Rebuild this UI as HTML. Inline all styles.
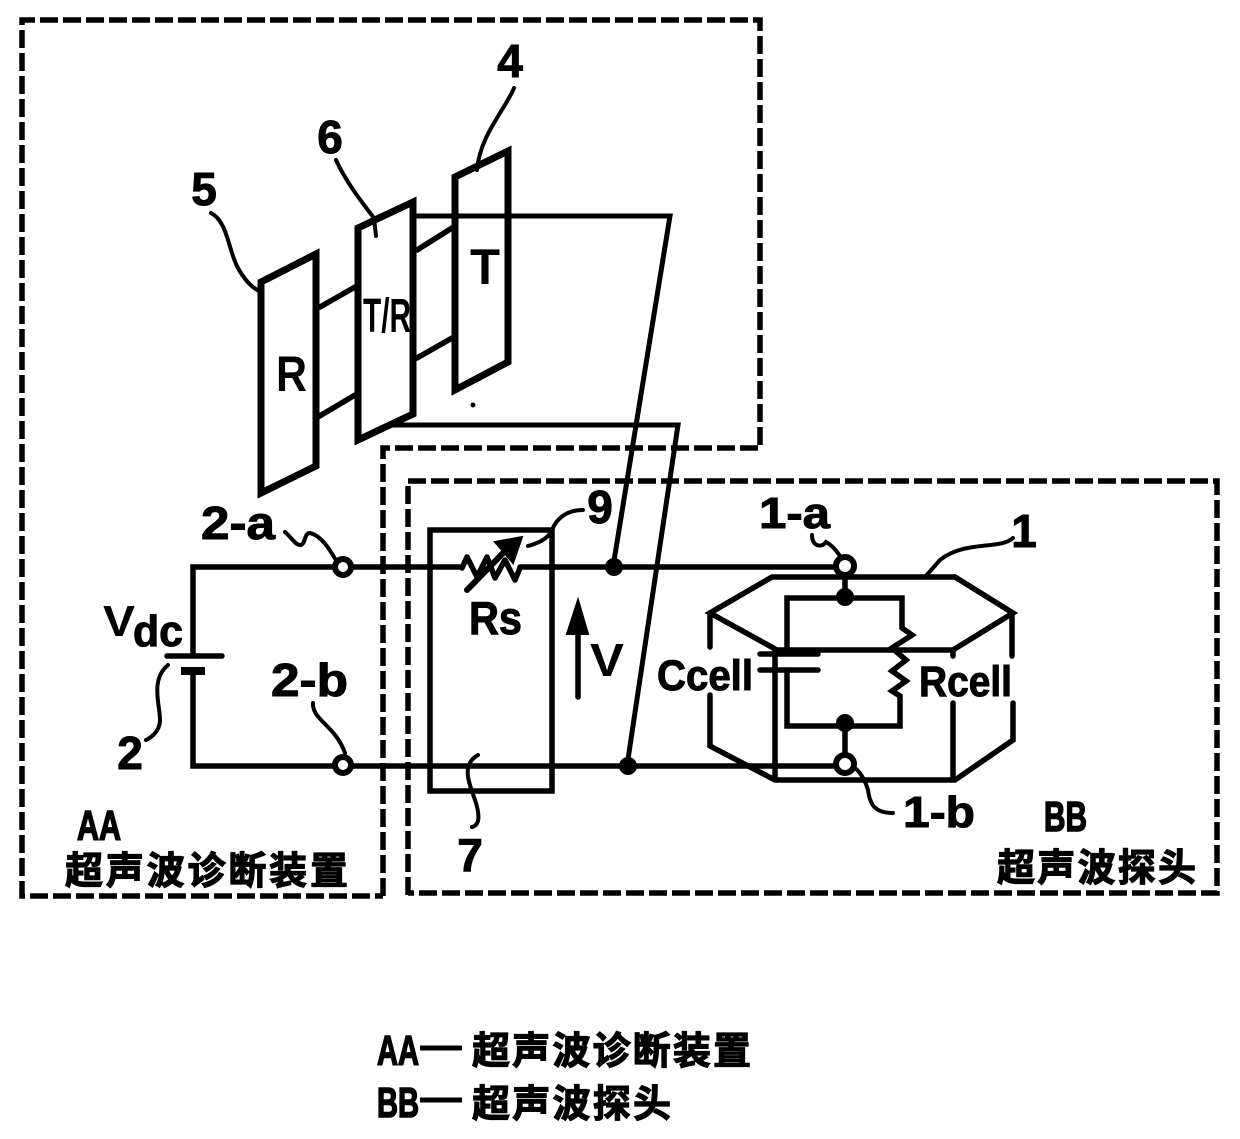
<!DOCTYPE html>
<html><head><meta charset="utf-8"><style>
html,body{margin:0;padding:0;background:#fff}
svg{display:block}
text{font-family:"Liberation Sans","Noto Sans CJK SC",sans-serif;font-weight:700;fill:#000}
.cjk{stroke:#000;stroke-width:1.2}
.l{stroke-width:1;stroke:#000}
.h{stroke-width:1.6;stroke:#000}
</style></head><body>
<svg width="1240" height="1139" viewBox="0 0 1240 1139" xmlns="http://www.w3.org/2000/svg">
<g fill="none" stroke="#000" stroke-linejoin="miter" stroke-linecap="round">
<!-- dashed frames -->
<g stroke-width="5.5" stroke-dasharray="18 5" stroke-linecap="butt">
<path d="M383 896V448H760V20H22V896H383"/>
<path d="M408 895V481H1217V893H408"/>
</g>
<!-- panels -->
<g stroke-width="7">
<path d="M261 282L316 254V466L261 493Z"/>
<path d="M358 228L413 202V414L358 440Z"/>
<path d="M455 177L508 151V362L455 390Z"/>
</g>
<g stroke-width="5.5">
<path d="M320 307L355 287M318 417L355 395M417 250L452 228M417 358L452 338"/>
</g>
<!-- feed lines -->
<g stroke-width="5">
<path d="M413 216H670L613 567"/>
<path d="M393 425H678L627 766"/>
</g>
<!-- main wires -->
<g stroke-width="5.5">
<path d="M334 567H193V654M193 674V766H334"/>
<path d="M353 567H462M520 567H834M353 766H834"/>
<rect x="430" y="530" width="122" height="261"/>
</g>
<path d="M167 656H222" stroke-width="5.5"/>
<path d="M181 671H205" stroke-width="8" stroke-linecap="butt"/>
<!-- terminals -->
<g stroke-width="6" fill="#fff">
<circle cx="343" cy="567" r="8"/><circle cx="343" cy="765" r="8"/>
</g>
<!-- resistor Rs -->
<path d="M462 568L467 557L477 577L487 557L495 578L505 560L515 580L520 568" stroke-width="5.5" stroke-linejoin="round"/>
<path d="M467 590L510 546" stroke-width="6"/>
<path d="M495 542L522 537L513 563Z" fill="#000" stroke-width="2"/>
<!-- V arrow -->
<path d="M578 697V610" stroke-width="5.5"/>
<path d="M578 600L567 634H588Z" fill="#000" stroke-width="2"/>
<!-- dots -->
<g fill="#000" stroke="none">
<circle cx="614" cy="567" r="9"/><circle cx="628" cy="766" r="9"/>
<circle cx="845" cy="597" r="9"/><circle cx="845" cy="723" r="9"/>
<circle cx="473" cy="405" r="2.5"/>
</g>
<!-- hexagon -->
<g stroke-width="5.5">
<path d="M772 577H955L1013 613L953 650H777L710 613L772 577"/>
<path d="M710 613V647M710 695V746L775 780H955L1013 740V703M1012 613V656M953 703V778M953 650V656M775 650V780"/>
</g>
<!-- cell circuit -->
<g stroke-width="5.5">
<path d="M845 575V597M845 723V757"/>
<path d="M787 650V598H902V628L912 635L892 648L906 660L892 671L906 681L892 691L900 696V726H787V670"/>
<path d="M760 654H818M760 670H818"/>
</g>
<g stroke-width="6" fill="#fff">
<circle cx="845" cy="566" r="9"/><circle cx="845" cy="764" r="9"/>
</g>
<!-- leaders -->
<g stroke-width="4">
<path d="M211 213C228 222 228 250 238 268C244 279 252 288 261 292"/>
<path d="M336 160C345 180 360 200 374 218L376 236"/>
<path d="M514 88C505 110 480 135 477 170"/>
<path d="M583 510C565 510 556 520 552 530C548 540 535 544 528 546"/>
<path d="M1013 538C1000 550 965 540 940 560L925 577"/>
<path d="M812 535C812 547 822 548 826 542C832 545 836 550 840 556"/>
<path d="M285 532C292 538 296 546 301 545C306 543 304 533 310 533C322 536 330 550 337 562"/>
<path d="M313 703C312 720 335 725 345 753"/>
<path d="M893 813C875 813 870 805 868 790C865 780 860 772 855 768"/>
<path d="M168 665C150 680 160 705 160 720C160 732 150 738 146 740"/>
<path d="M478 755C460 765 470 785 475 800C480 815 480 825 472 827"/>
</g>
</g>
<!-- labels -->
<g>
<text class="l" x="510" y="77" font-size="46" text-anchor="middle">4</text>
<text class="l" x="330" y="153" font-size="46" text-anchor="middle">6</text>
<text class="l" x="204" y="205" font-size="46" text-anchor="middle">5</text>
<text class="l" x="600" y="523" font-size="46" text-anchor="middle">9</text>
<text class="l" x="1024" y="547" font-size="46" text-anchor="middle">1</text>
<text x="276" y="391" font-size="50" textLength="31" lengthAdjust="spacingAndGlyphs">R</text>
<text x="470" y="284" font-size="50" textLength="30" lengthAdjust="spacingAndGlyphs">T</text>
<text x="363" y="332" font-size="48" textLength="48" lengthAdjust="spacingAndGlyphs">T/R</text>
<text class="l" x="201" y="539" font-size="46" textLength="74" lengthAdjust="spacingAndGlyphs">2-a</text>
<text class="l" x="271" y="696" font-size="46" textLength="77" lengthAdjust="spacingAndGlyphs">2-b</text>
<text class="l" x="759" y="528" font-size="44" textLength="71" lengthAdjust="spacingAndGlyphs">1-a</text>
<text class="l" x="903" y="827" font-size="44" textLength="72" lengthAdjust="spacingAndGlyphs">1-b</text>
<text x="103" y="636" font-size="44" textLength="32" lengthAdjust="spacingAndGlyphs">V</text>
<text class="l" x="133" y="646" font-size="44" textLength="50" lengthAdjust="spacingAndGlyphs">dc</text>
<text class="l" x="130" y="769" font-size="46" text-anchor="middle">2</text>
<text class="l" x="470" y="871" font-size="46" text-anchor="middle">7</text>
<text class="l" x="469" y="634" font-size="46" textLength="53" lengthAdjust="spacingAndGlyphs">Rs</text>
<text x="590" y="676" font-size="46" textLength="34" lengthAdjust="spacingAndGlyphs">V</text>
<text class="l" x="657" y="690" font-size="43" textLength="96" lengthAdjust="spacingAndGlyphs">Ccell</text>
<text class="l" x="919" y="696" font-size="43" textLength="93" lengthAdjust="spacingAndGlyphs">Rcell</text>
<text class="h" x="77" y="840" font-size="42" textLength="44" lengthAdjust="spacingAndGlyphs">AA</text>
<text class="h" x="1044" y="831" font-size="42" textLength="43" lengthAdjust="spacingAndGlyphs">BB</text>
<text class="cjk" x="65" y="884" font-size="38" textLength="283" lengthAdjust="spacing">超声波诊断装置</text>
<text class="cjk" x="997" y="881" font-size="38" textLength="199" lengthAdjust="spacing">超声波探头</text>
<text class="h" x="377" y="1065" font-size="42" textLength="42" lengthAdjust="spacingAndGlyphs">AA</text>
<text class="h" x="377" y="1117" font-size="42" textLength="42" lengthAdjust="spacingAndGlyphs">BB</text>
<text class="cjk" x="472" y="1064" font-size="38" textLength="279" lengthAdjust="spacing">超声波诊断装置</text>
<text class="cjk" x="472" y="1117" font-size="38" textLength="199" lengthAdjust="spacing">超声波探头</text>
</g>
<path d="M420 1048H462M420 1100H462" stroke="#000" stroke-width="5" fill="none"/>
</svg>
</body></html>
